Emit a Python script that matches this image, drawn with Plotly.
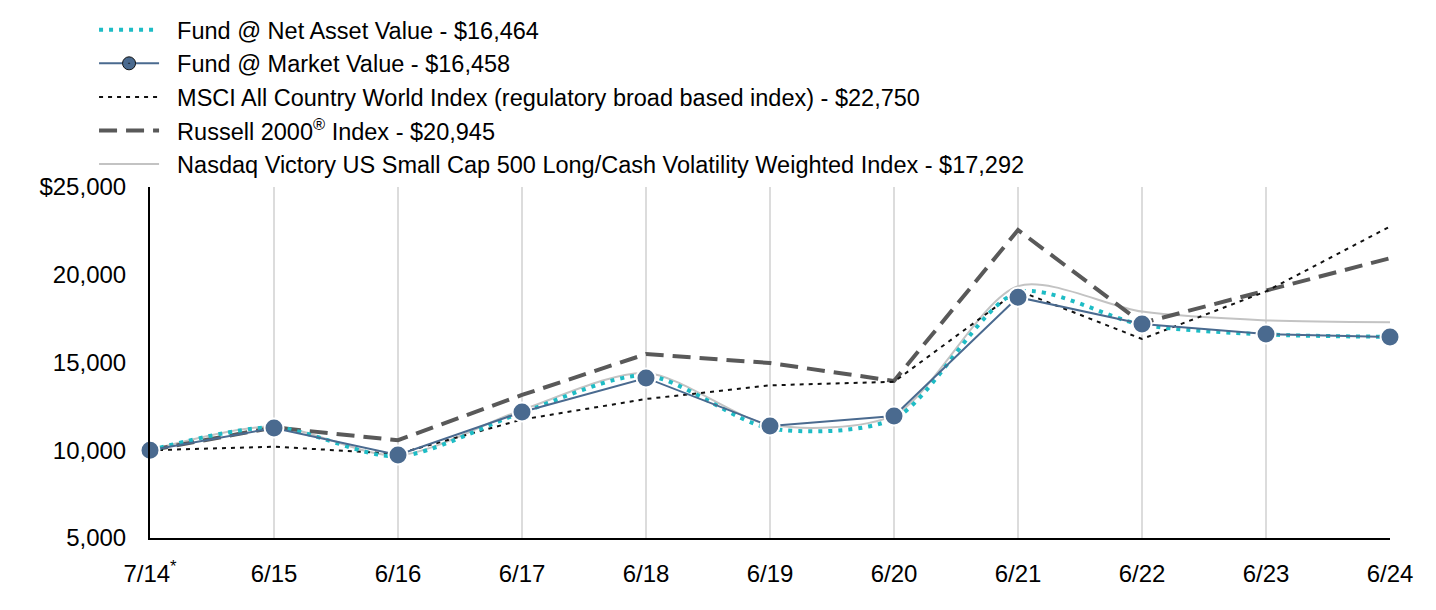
import plotly.graph_objects as go

categories = ["7/14<sup>*</sup>", "6/15", "6/16", "6/17", "6/18", "6/19", "6/20", "6/21", "6/22", "6/23", "6/24"]
nav = [10000, 11300, 9650, 12150, 14250, 11250, 11800, 19000, 17150, 16600, 16464]
market = [10000, 11270, 9730, 12180, 14120, 11380, 11950, 18720, 17190, 16620, 16458]
msci = [10000, 10200, 9800, 11750, 12920, 13700, 13900, 19100, 16340, 19050, 22750]
russell = [10000, 11300, 10570, 13150, 15480, 14970, 13950, 22550, 17250, 19100, 20945]
nasdaq = [10000, 11350, 9700, 12300, 14400, 11450, 12000, 19350, 17900, 17400, 17292]

names = [
    "Fund @ Net Asset Value - $16,464",
    "Fund @ Market Value - $16,458",
    "MSCI All Country World Index (regulatory broad based index) - $22,750",
    "Russell 2000<sup>®</sup> Index - $20,945",
    "Nasdaq Victory US Small Cap 500 Long/Cash Volatility Weighted Index - $17,292",
]
ytickvals = [5000, 10000, 15000, 20000, 25000]
yticktext = ["5,000", "10,000", "15,000", "20,000", "$25,000"]

pad = "\u00a0\u00a0"
x = list(range(len(categories)))
fig = go.Figure()

fig.add_trace(go.Scatter(x=x, y=nasdaq, mode="lines", name=pad + names[4], legendrank=5,
                         line=dict(color="#c3c3c3", width=2, shape="spline", smoothing=0.8), cliponaxis=False))
fig.add_trace(go.Scatter(x=x, y=russell, mode="lines", name=pad + names[3], legendrank=4,
                         line=dict(color="#595959", width=4, dash="18px,9px"), cliponaxis=False))
fig.add_trace(go.Scatter(x=x, y=msci, mode="lines", name=pad + names[2], legendrank=3,
                         line=dict(color="#111111", width=2, dash="4px,5px"), cliponaxis=False))
fig.add_trace(go.Scatter(x=x, y=nav, mode="lines", name=pad + names[0], legendrank=1,
                         line=dict(color="#1ebcc5", width=4, dash="4px,6px", shape="spline", smoothing=0.8),
                         cliponaxis=False))
fig.add_trace(go.Scatter(x=x, y=market, mode="lines+markers", name=pad + names[1], legendrank=2, showlegend=False,
                         line=dict(color="#4a6a8f", width=2),
                         marker=dict(size=19, color="#4a6a8f", line=dict(color="white", width=2)),
                         cliponaxis=False))
# legend-only entry for market value (circle with dot)
fig.add_trace(go.Scatter(x=[None], y=[None], mode="lines+markers", name=pad + names[1], legendrank=2,
                         line=dict(color="#4a6a8f", width=2),
                         marker=dict(size=13, color="#4a6a8f", symbol="circle-dot",
                                     line=dict(color="#111111", width=1))))

fig.update_layout(
    width=1420, height=594,
    margin=dict(l=142, r=38, t=179, b=64, autoexpand=False),
    paper_bgcolor="white", plot_bgcolor="white",
    font=dict(family="Liberation Sans, Arial, sans-serif", size=24, color="#000000"),
    showlegend=True,
    legend=dict(xref="container", yref="container", x=0.0606, y=1.0, xanchor="left", yanchor="top",
                itemwidth=60, font=dict(size=23.5), bgcolor="rgba(0,0,0,0)", tracegroupgap=0),
    xaxis=dict(range=[0, 10], tickvals=x, ticktext=categories, showgrid=True,
               gridcolor="#dcdcdc", gridwidth=2, showline=True, linecolor="#000000", linewidth=2,
               ticks="", zeroline=False, ticklabelstandoff=13, fixedrange=True),
    yaxis=dict(range=[5000, 25000], tickvals=ytickvals, ticktext=yticktext, showgrid=False,
               showline=True, linecolor="#000000", linewidth=2, ticks="", zeroline=False,
               ticklabelstandoff=17),
)

fig.write_html("out.html")
